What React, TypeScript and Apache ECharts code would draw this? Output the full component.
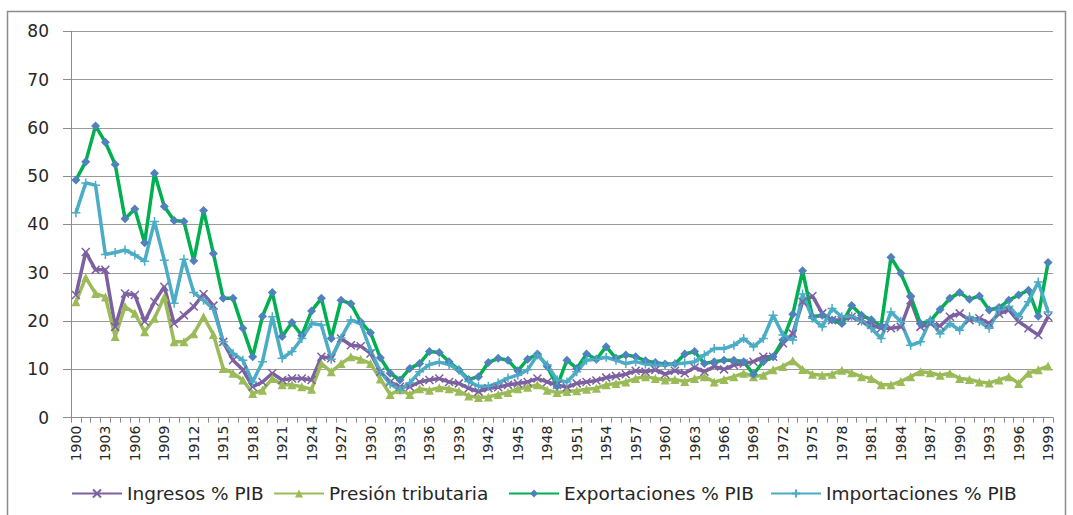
import React, { useEffect, useRef } from "react";
import * as echarts from "echarts";

const years: string[] = [];
for (let y = 1900; y <= 1999; y++) years.push(String(y));

const ingresos = [
  25.4, 34.3, 30.6, 30.6, 18.8, 25.7, 25.4, 19.9, 24, 27.1,
  19.5, 21.2, 23, 25.6, 23.2, 15.7, 11.9, 9.9, 6.4, 7.4,
  9.2, 7.8, 8.1, 8.1, 7.8, 12.6, 12.3, 16.4, 15, 14.8,
  13.3, 9.5, 7.4, 6.4, 6.4, 7.4, 7.8, 8.1, 7.4, 7.1,
  6.1, 5.4, 6.1, 6.3, 6.8, 7.1, 7.4, 8.1, 7.4, 6.8,
  6.3, 7.1, 7.4, 7.7, 8.3, 8.6, 9, 9.7, 9.5, 9.9,
  9, 9.7, 9.2, 10.4, 9.5, 10.6, 10, 10.9, 11.2, 11.6,
  12.6, 12.6, 15.4, 17.4, 24, 25.2, 21.6, 20.2, 20.2, 20.9,
  20, 19.2, 18.5, 18.5, 18.8, 24.3, 18.8, 19.5, 19, 20.9,
  21.6, 20.2, 20.6, 19.5, 21.5, 22.3, 19.9, 18.5, 17.1, 20.9,
];

const presion = [
  24, 29, 25.7, 25, 16.8, 23, 21.6, 17.8, 20.6, 25,
  15.7, 15.7, 17.4, 20.9, 17.2, 10.2, 9.2, 7.8, 5, 5.7,
  8.1, 6.8, 6.8, 6.4, 5.9, 11.2, 9.5, 11.2, 12.6, 12.1,
  11.2, 8, 4.8, 5.8, 4.8, 6, 5.7, 6.2, 6, 5.5,
  4.5, 4.2, 4.3, 4.8, 5.2, 6, 6.3, 6.8, 5.7, 5.2,
  5.4, 5.6, 5.9, 6.1, 6.8, 7.1, 7.4, 8.1, 8.5, 8.1,
  7.8, 7.9, 7.5, 8.1, 8.5, 7.4, 7.9, 8.5, 9.2, 8.5,
  8.8, 9.9, 10.6, 11.8, 10, 9, 8.8, 9, 9.8, 9.3,
  8.5, 8.1, 6.8, 6.8, 7.5, 8.5, 9.5, 9.3, 8.8, 9.2,
  8.1, 7.9, 7.4, 7.2, 7.8, 8.5, 7.1, 9.2, 9.9, 10.7,
];

const exportaciones = [
  49.2, 53, 60.4, 57, 52.4, 41.2, 43.2, 36.2, 50.6, 43.7,
  40.8, 40.6, 32.5, 42.9, 34, 24.7, 24.7, 18.5, 12.6, 21,
  25.9, 16.8, 19.7, 17, 22.1, 24.7, 16.4, 24.3, 23.6, 19.8,
  17.6, 12.4, 9.2, 7.8, 10.2, 11.2, 13.7, 13.5, 11.6, 9.9,
  7.9, 8.5, 11.4, 12.3, 11.9, 9.7, 12.1, 13.2, 10.6, 6.5,
  11.9, 10.2, 13.2, 12.1, 14.7, 12.3, 13, 12.6, 11.8, 11.4,
  11.1, 11.1, 13.2, 13.7, 11.2, 11.6, 11.9, 11.9, 11.6, 9,
  11.6, 12.6, 16.1, 21.4, 30.4, 20.9, 21.2, 20.2, 19.5, 23.2,
  21.2, 20.3, 19, 33.2, 29.9, 25.2, 19.5, 20, 22.4, 24.7,
  25.9, 24.5, 25.2, 22.3, 22.8, 24.3, 25.4, 26.4, 21, 32.1,
];

const importaciones = [
  42.4, 48.6, 48.1, 33.8, 34.2, 34.7, 33.7, 32.4, 40.6, 32.6,
  23.7, 32.8, 25.9, 24.3, 22.5, 15.7, 13.3, 11.9, 7.4, 11.6,
  20.9, 12.3, 13.7, 16.4, 19.5, 19.2, 12.1, 16.5, 20.2, 19.5,
  14, 9.5, 7, 5.8, 7.2, 9.5, 11, 11.5, 11, 9.8,
  7.5, 6.5, 6.5, 7.2, 8.2, 8.8, 9.9, 13, 10.9, 7.8,
  7.4, 9.5, 11.9, 12.1, 12.5, 11.9, 11.2, 11.6, 11.1, 10.9,
  10.9, 11.1, 11.3, 11.6, 13, 14.3, 14.3, 15, 16.4, 14.7,
  16.4, 21.2, 17.1, 16.1, 25.6, 20.6, 18.8, 22.6, 20.9, 21,
  20, 18.5, 16.4, 21.9, 19.9, 15, 15.7, 20.2, 17.4, 19.5,
  18.1, 20.9, 19.9, 18.5, 22.3, 23, 20.9, 24, 28.1, 21.9,
];

const seriesNames = [
  "Ingresos % PIB",
  "Presión tributaria",
  "Exportaciones % PIB",
  "Importaciones % PIB",
];

const X_PATH = "path://M0,0L10,10M10,0L0,10";
const PLUS_PATH = "path://M5,0L5,10M0,5L10,5";

export default function App() {
  const ref = useRef<HTMLDivElement>(null);
  useEffect(() => {
    if (!ref.current) return;
    const chart = echarts.init(ref.current, undefined, { renderer: "svg" });
    const font = "DejaVu Sans";
    const legendBase = {
      top: 484,
      padding: 0,
      itemWidth: 50,
      itemHeight: 10,
      textStyle: { fontFamily: font, fontSize: 18.5, color: "#262626" },
    };
    chart.setOption({
      animation: false,
      backgroundColor: "#ffffff",
      grid: { left: 71, right: 20, top: 31.2, bottom: 97.3, containLabel: false },
      graphic: [
        {
          type: "rect",
          shape: { x: 7.5, y: 11.5, width: 1058, height: 600 },
          style: { fill: "none", stroke: "#8c8c8c", lineWidth: 1.5 },
          silent: true,
        },
      ],
      legend: [
        { ...legendBase, left: 71, data: [seriesNames[0]] },
        { ...legendBase, left: 273, data: [seriesNames[1]] },
        { ...legendBase, left: 508, data: [seriesNames[2]] },
        { ...legendBase, left: 770, data: [seriesNames[3]] },
      ],
      xAxis: {
        type: "category",
        data: years,
        boundaryGap: true,
        axisLine: { show: true, lineStyle: { color: "#8c8c8c", width: 1 } },
        axisTick: { show: true, interval: 0, length: 5, lineStyle: { color: "#8c8c8c" } },
        axisLabel: {
          interval: 2,
          rotate: 90,
          margin: 8,
          fontFamily: font,
          fontSize: 14,
          color: "#262626",
        },
        splitLine: { show: false },
      },
      yAxis: {
        type: "value",
        min: 0,
        max: 80,
        interval: 10,
        axisLine: { show: true, lineStyle: { color: "#8c8c8c", width: 1 } },
        axisTick: { show: true, length: 8, lineStyle: { color: "#8c8c8c" } },
        axisLabel: { margin: 22, fontFamily: font, fontSize: 17, color: "#262626" },
        splitLine: { show: true, lineStyle: { color: "#9a9a9a", width: 1 } },
      },
      series: [
        {
          name: seriesNames[0],
          type: "line",
          data: ingresos,
          symbol: X_PATH,
          symbolSize: 8,
          showAllSymbol: true,
          lineStyle: { color: "#7D60A0", width: 3.5 },
          itemStyle: { color: "#7D60A0", borderColor: "#7D60A0", borderWidth: 1.5 },
        },
        {
          name: seriesNames[1],
          type: "line",
          data: presion,
          symbol: "triangle",
          symbolSize: 9,
          showAllSymbol: true,
          lineStyle: { color: "#9BBB59", width: 3.5 },
          itemStyle: { color: "#9BBB59" },
        },
        {
          name: seriesNames[2],
          type: "line",
          data: exportaciones,
          symbol: "diamond",
          symbolSize: 9,
          showAllSymbol: true,
          lineStyle: { color: "#00B050", width: 3.5 },
          itemStyle: { color: "#4F81BD" },
        },
        {
          name: seriesNames[3],
          type: "line",
          data: importaciones,
          symbol: PLUS_PATH,
          symbolSize: 9,
          showAllSymbol: true,
          lineStyle: { color: "#4BACC6", width: 3.5 },
          itemStyle: { color: "#4BACC6", borderColor: "#4BACC6", borderWidth: 1.5 },
        },
      ],
    });
    return () => chart.dispose();
  }, []);
  return (
    <div
      ref={ref}
      style={{ position: "absolute", left: 0, top: 0, width: 1073, height: 515 }}
    />
  );
}
